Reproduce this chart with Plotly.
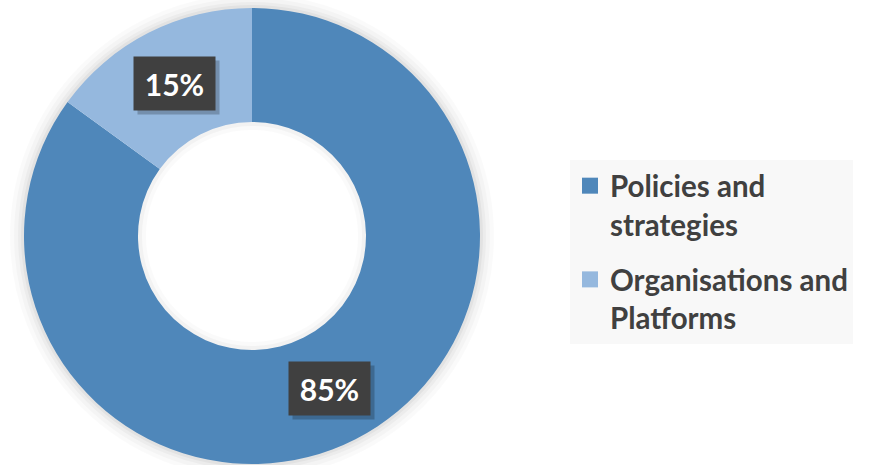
import math
import plotly.graph_objects as go

labels = ["Policies and strategies", "Organisations and Platforms"]
legend_text = ["Policies and<br>strategies", "Organisations and<br>Platforms"]
values = [85, 15]
colors = ["#4f87ba", "#95b8de"]

W, H = 874, 465
cx, cy, R = 252, 236, 228
hole = 0.5

def dom(r):
    return dict(x=[(cx - r) / W, (cx + r) / W], y=[1 - (cy + r) / H, 1 - (cy - r) / H])

fig = go.Figure()

# soft outer shadow rings (below layer)
for extra, a in [(28, 0.018), (20, 0.022), (12, 0.03), (6, 0.04)]:
    fig.add_shape(type="circle", xref="paper", yref="paper", layer="below",
                  x0=(cx - R) / W, x1=(cx + R) / W, y0=1 - (cy + R) / H, y1=1 - (cy - R) / H,
                  line=dict(color=f"rgba(0,0,0,{a})", width=extra), fillcolor="rgba(0,0,0,0)")

fig.add_trace(go.Pie(labels=labels, values=values, marker=dict(colors=colors, line=dict(width=0)),
                     hole=hole, sort=False, direction="clockwise", rotation=0,
                     domain=dom(R), textinfo="none", showlegend=False))

# inner shadow hint
ri = R * hole
for extra, a in [(16, 0.02), (8, 0.03)]:
    fig.add_shape(type="circle", xref="paper", yref="paper", layer="below",
                  x0=(cx - ri) / W, x1=(cx + ri) / W, y0=1 - (cy + ri) / H, y1=1 - (cy - ri) / H,
                  line=dict(color=f"rgba(0,0,0,{a})", width=extra), fillcolor="rgba(0,0,0,0)")

# legend entries
for i, (lt, c) in enumerate(zip(legend_text, colors)):
    fig.add_trace(go.Scatter(x=[None], y=[None], mode="markers", name=lt, legendgroup=f"g{i}",
                             marker=dict(symbol="square", size=18, color=c)))

total = sum(values)
cum = 0
rl = R * (1 + hole) / 2
for v in values:
    a = 2 * math.pi * (cum + v / 2) / total
    cum += v
    xp = cx + rl * math.sin(a)
    yp = cy - rl * math.cos(a)
    txt = f"{round(100 * v / total)}%"
    fig.add_annotation(x=(xp + 4) / W, y=1 - (yp + 4) / H, xref="paper", yref="paper",
                       xanchor="center", yanchor="middle",
                       text=" ", showarrow=False, width=79, height=51,
                       bgcolor="rgba(0,0,0,0.22)")
    fig.add_annotation(x=xp / W, y=1 - yp / H, xref="paper", yref="paper",
                       xanchor="center", yanchor="middle",
                       text=txt, showarrow=False, width=79, height=51,
                       bgcolor="#404040",
                       font=dict(family="Lato", size=30, color="white", weight=700))

fig.update_layout(
    width=W, height=H, margin=dict(l=0, r=0, t=0, b=0),
    paper_bgcolor="white", plot_bgcolor="white",
    xaxis=dict(visible=False), yaxis=dict(visible=False),
    showlegend=True,
    legend=dict(x=570 / W, y=1 - 160 / H, xanchor="left", yanchor="top",
                bgcolor="#f8f8f8", font=dict(family="Lato", size=29.5, color="#404040", weight=700),
                itemclick=False, tracegroupgap=14, valign="top"),
)

fig.write_html("out.html")
